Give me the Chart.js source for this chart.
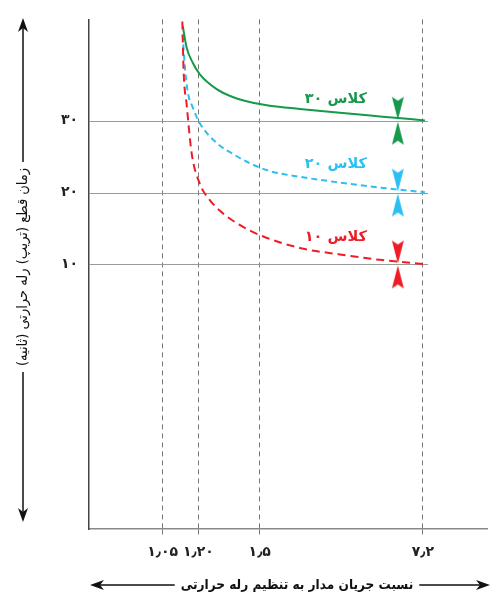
<!DOCTYPE html>
<html>
<head>
<meta charset="utf-8">
<script src="https://cdn.jsdelivr.net/npm/chart.js@4.4.1/dist/chart.umd.min.js"></script>
<style>
  body { margin: 0; background: #fff; }
</style>
</head>
<body>
<canvas id="myChart" width="493" height="597"></canvas>
<script>
// x is a schematic position along the axis (the ratio ticks are not to scale)
const xTickPos = [18.5, 27.5, 42.9, 83.9];
const xTickLabels = ["۱٫۰۵", "۱٫۲۰", "۱٫۵", "۷٫۲"];
const yTickValues = [10, 20, 30];
const yTickLabels = ["۱۰", "۲۰", "۳۰"];

const classNames = ["کلاس ۳۰", "کلاس ۲۰", "کلاس ۱۰"];
const classLevels = [30, 20, 10];

const x30 = [23.55, 24.53, 26.04, 27.8, 32.08, 36.1, 40.38, 45.41, 52.96, 63.02, 73.08, 84.4];
const y30 = [43.2, 40.2, 38.1, 36.5, 34.4, 33.3, 32.6, 32.1, 31.65, 31.1, 30.6, 30.05];

const x20 = [23.52, 24.03, 24.78, 26.04, 27.8, 32.08, 36.1, 40.38, 45.41, 52.96, 63.02, 73.08, 84.4];
const y20 = [42.0, 37.9, 34.1, 31.9, 29.7, 26.9, 25.4, 24.1, 23.0, 22.2, 21.4, 20.7, 20.05];

const x10 = [23.45, 23.77, 24.53, 25.79, 27.8, 30.31, 32.83, 37.86, 42.89, 52.96, 63.02, 73.08, 84.4];
const y10 = [43.8, 36.9, 32.3, 25.5, 21.3, 19.0, 17.5, 15.5, 14.1, 12.3, 11.4, 10.65, 10.05];

const markerX = 77.6;

const colors = ["#16994a", "#2cc0f2", "#ee1d25"];
const font = "'DejaVu Sans', sans-serif";
const fontCond = "'DejaVu Sans Condensed', 'DejaVu Sans', sans-serif";

function pts(xs, ys) {
    return xs.map((x, i) => ({ x: x, y: ys[i] }));
}

// two arrow heads meeting at the curve
function hourglass(color) {
    const c = document.createElement("canvas");
    c.width = 14;
    c.height = 50;
    const g = c.getContext("2d");
    g.fillStyle = color;
    g.beginPath();
    g.moveTo(1, 1); g.lineTo(7, 5); g.lineTo(13, 1); g.lineTo(7, 24);
    g.closePath();
    g.fill();
    g.beginPath();
    g.moveTo(1, 49); g.lineTo(7, 45); g.lineTo(13, 49); g.lineTo(7, 26);
    g.closePath();
    g.fill();
    return c;
}

const curveSets = [
    { label: classNames[2], data: pts(x10, y10), borderColor: colors[2], borderDash: [8, 5], order: 0 },
    { label: classNames[1], data: pts(x20, y20), borderColor: colors[1], borderDash: [6, 4], order: 1 },
    { label: classNames[0], data: pts(x30, y30), borderColor: colors[0], borderDash: [], order: 2 }
].map(d => Object.assign(d, {
    borderWidth: 2,
    pointRadius: 0,
    fill: false,
    cubicInterpolationMode: "monotone"
}));

const markerSets = classLevels.map((lv, i) => ({
    label: "m" + lv,
    data: [{ x: markerX, y: lv }],
    showLine: false,
    pointStyle: hourglass(colors[i]),
    pointRadius: 10,
    order: -1
}));

// labels and short horizontal grid lines
const annotate = {
    id: "annotate",
    beforeDatasetsDraw(chart) {
        const { ctx, chartArea, scales: { x, y } } = chart;
        ctx.save();
        ctx.strokeStyle = "#9a9a9a";
        ctx.lineWidth = 1;
        const xe = x.getPixelForValue(85.2);
        yTickValues.forEach(v => {
            const py = Math.round(y.getPixelForValue(v)) + 0.5;
            ctx.beginPath();
            ctx.moveTo(chartArea.left, py);
            ctx.lineTo(xe, py);
            ctx.stroke();
        });
        ctx.restore();
    },
    afterDraw(chart) {
        const { ctx, scales: { x, y } } = chart;
        ctx.save();
        ctx.direction = "rtl";
        ctx.textAlign = "center";
        ctx.textBaseline = "middle";
        ctx.font = "bold 14.5px " + font;
        const offs = [-22, -28, -27];
        classNames.forEach((n, i) => {
            ctx.fillStyle = colors[i];
            ctx.fillText(n, x.getPixelForValue(62), y.getPixelForValue(classLevels[i]) + offs[i]);
        });

        ctx.fillStyle = "#111";
        ctx.strokeStyle = "#111";
        ctx.lineWidth = 1.5;

        // x title
        ctx.font = "bold 13.5px " + fontCond;
        const xt = "نسبت جریان مدار به تنظیم رله حرارتی";
        const tx = 297, ty = 585;
        const wx = ctx.measureText(xt).width;
        ctx.fillText(xt, tx, ty);
        ctx.beginPath();
        ctx.moveTo(98, ty); ctx.lineTo(tx - wx / 2 - 6, ty);
        ctx.moveTo(tx + wx / 2 + 6, ty); ctx.lineTo(482, ty);
        ctx.stroke();
        arrow(ctx, 90, ty, -1, 0);
        arrow(ctx, 490, ty, 1, 0);

        // y title
        ctx.font = "14.5px " + fontCond;
        const yt = "زمان قطع (تریپ) رله حرارتی (ثانیه)";
        const cx = 23, cy = 267;
        const wy = ctx.measureText(yt).width;
        ctx.save();
        ctx.translate(cx, cy);
        ctx.rotate(-Math.PI / 2);
        ctx.fillText(yt, 0, 0);
        ctx.restore();
        ctx.beginPath();
        ctx.moveTo(cx, 26); ctx.lineTo(cx, cy - wy / 2 - 6);
        ctx.moveTo(cx, cy + wy / 2 + 6); ctx.lineTo(cx, 514);
        ctx.stroke();
        arrow(ctx, cx, 18, 0, -1);
        arrow(ctx, cx, 522, 0, 1);
        ctx.restore();
    }
};

function arrow(ctx, tx, ty, dx, dy) {
    const L = 14, W = 5;
    const bx = tx - dx * L, by = ty - dy * L;
    const nx = -dy, ny = dx;
    ctx.beginPath();
    ctx.moveTo(tx, ty);
    ctx.lineTo(bx + nx * W, by + ny * W);
    ctx.lineTo(tx - dx * (L - 4), ty - dy * (L - 4));
    ctx.lineTo(bx - nx * W, by - ny * W);
    ctx.closePath();
    ctx.fill();
}

new Chart("myChart", {
    type: "line",
    data: {
        datasets: curveSets.concat(markerSets)
    },
    options: {
        responsive: false,
        animation: false,
        layout: { autoPadding: false, padding: { top: 15, right: 6, left: 0, bottom: 0 } },
        plugins: {
            legend: { display: false },
            tooltip: { enabled: false }
        },
        scales: {
            x: {
                type: "linear",
                min: 0,
                max: 100,
                afterBuildTicks: s => { s.ticks = xTickPos.map(v => ({ value: v })); },
                afterFit: s => { s.height = 68; },
                ticks: {
                    autoSkip: false,
                    maxRotation: 0,
                    padding: 8,
                    color: "#222",
                    font: { family: font, size: 14, weight: "bold" },
                    callback: v => xTickLabels[xTickPos.indexOf(v)]
                },
                grid: {
                    color: "#777",
                    lineWidth: 1,
                    tickLength: 7,
                    tickColor: "#777",
                    tickBorderDash: [5, 4]
                },
                border: { color: "#888", width: 1.5, dash: [5, 4] }
            },
            y: {
                type: "linear",
                min: -26.8,
                max: 44.1,
                afterBuildTicks: s => { s.ticks = yTickValues.map(v => ({ value: v })); },
                afterFit: s => { s.width = 89; },
                ticks: {
                    padding: 11,
                    color: "#222",
                    font: { family: font, size: 14, weight: "bold" },
                    callback: v => yTickLabels[yTickValues.indexOf(v)]
                },
                grid: { display: false, drawTicks: false },
                border: { color: "#444", width: 1.5 }
            }
        }
    },
    plugins: [annotate]
});
</script>
</body>
</html>
